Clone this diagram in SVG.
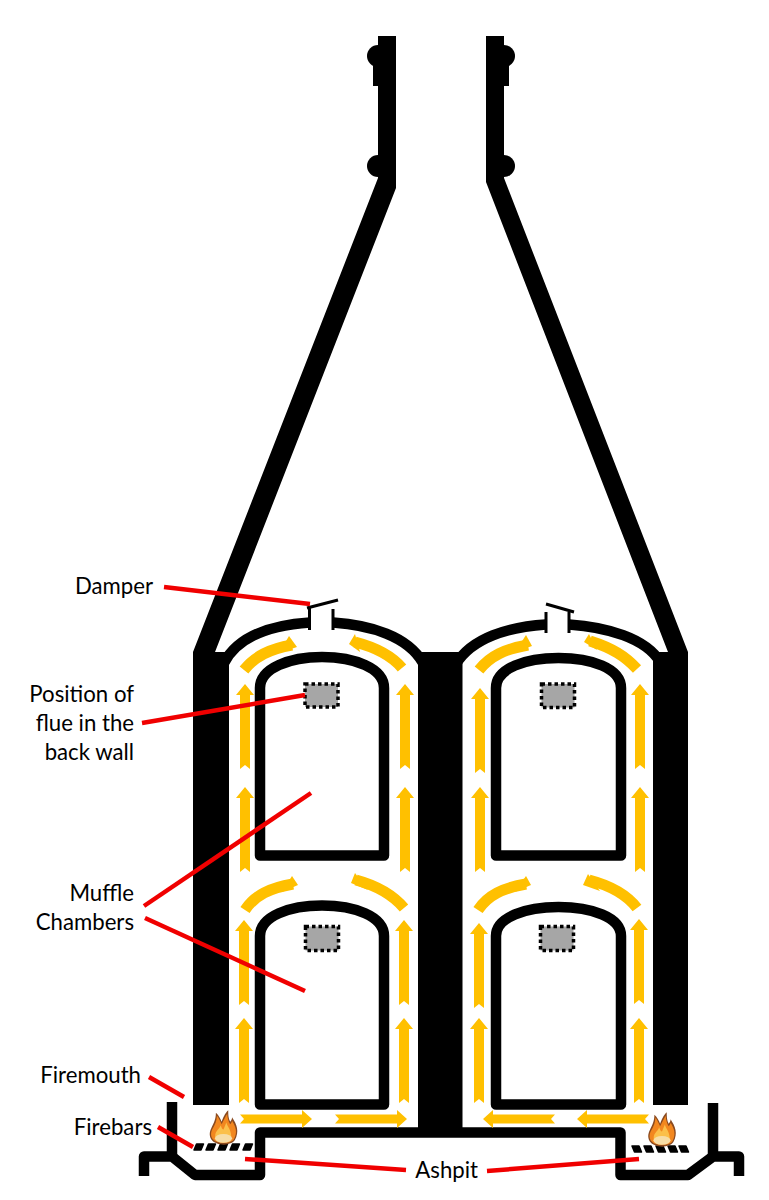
<svg xmlns="http://www.w3.org/2000/svg" xmlns:xlink="http://www.w3.org/1999/xlink" width="769" height="1200" viewBox="0 0 769 1200">
<style>
.wall{fill:#000}
.line{fill:none;stroke:#000;stroke-width:10.5;stroke-linejoin:round}
.thin{fill:none;stroke:#000;stroke-width:3}
.gold{fill:#FFC000}
.arc{fill:none;stroke:#FFC000;stroke-width:11}
.flue{fill:#A6A6A6;stroke:#000;stroke-width:3.500;stroke-dasharray:3.500 3}
.lead{stroke:#F00000;stroke-width:4.500;fill:none}
text{font-family:"Lato","Liberation Sans",sans-serif;font-size:22.200px;fill:#000;text-anchor:end}
</style>
<defs>
<path id="up" d="M0,0L9,11H5V85L0,81L-5,85V11H-9Z"/>
<path id="rt" d="M0,0L-10,9V4.500H-72L-68,0L-72,-4.500H-10V-9Z"/>
<path id="lf" d="M0,0L10,9V4.500H72L68,0L72,-4.500H10V-9Z"/>
<path id="bar" d="M2.500,0H9.500L7,6H0Z" stroke="#000" stroke-width="1.500" stroke-linejoin="round"/>
<path id="barr" d="M0,0H7L9.500,6H2.500Z" stroke="#000" stroke-width="1.500" stroke-linejoin="round"/>
<g id="flame">
<path d="M-13,23C-18,12-8,8-8,-7C-5,-4-3,0-2,3C0,-2 1,-6 5,-10C5,-5 5,-1 7,3C9,1 9,-1 9,-2C14,6 17,14 12,24C8,31-8,31-13,23Z" fill="#8A4A20"/>
<path d="M-12,22C-16,12-7,9-7,-4C-5,-1-3,3-2,6C0,2 2,-3 4,-6C4,-2 5,2 7,6C8,5 9,3 9,2C13,9 15,15 11,23C7,29-8,29-12,22Z" fill="#F2871F"/>
<path d="M-8,23C-11,14-4,12-3,7C-2,10-1,12 0,12C1,9 2,7 3,4C4,9 9,13 8,22C5,28-6,28-8,23Z" fill="#FBC04A"/>
<ellipse cx="0" cy="22" rx="9" ry="5" fill="#F7DDA6"/>
</g>
</defs>

<g id="chimney-left">
<circle class="wall" cx="378" cy="56" r="11"/><circle class="wall" cx="378" cy="166" r="11"/>
<rect class="wall" x="373" y="56" width="8" height="30"/>
<path class="wall" d="M378,36H396V188L215,652H229V1105H193V652L378,178Z"/>
</g>
<g id="chimney-right">
<circle class="wall" cx="504" cy="56" r="11"/><circle class="wall" cx="504" cy="166" r="11"/>
<rect class="wall" x="501" y="56" width="8" height="30"/>
<path class="wall" d="M504,36H486V182L668,652H653V1105H688V652L504,178Z"/>
</g>
<g id="centre-wall"><rect class="wall" x="418" y="652" width="44.500" height="480"/></g>

<g id="roof-left">
<path class="line" d="M224,663C238,636 272,625 310,622.500"/>
<path class="line" d="M333,622.500C370,625 408,636 423,663"/>
<path class="thin" d="M309.500,607V630M333,609V630"/>
<path class="thin" d="M307,608L338,600"/>
</g>
<g id="roof-right">
<path class="line" d="M456,664C472,638 508,627 546,624.500"/>
<path class="line" d="M569,624.500C606,627 646,638 660,662"/>
<path class="thin" d="M546,612V633M569,612V633"/>
<path class="thin" d="M546,604L574,612"/>
</g>

<g id="muffle-upper-left"><path class="line" d="M260,855.500V688C260,668 290,657 322,657S384,668 384,688V855.500Z"/><rect class="flue" x="305" y="684" width="33" height="23"/></g>
<g id="muffle-lower-left"><path class="line" d="M260,1104.500V936C260,916 290,905.500 322,905.500S384,916 384,936V1104.500Z"/><rect class="flue" x="305.500" y="926.500" width="33" height="24"/></g>
<g id="muffle-upper-right"><path class="line" d="M496,855.500V688C496,668 526,658 558.500,658S621,668 621,688V855.500Z"/><rect class="flue" x="541.500" y="684" width="33" height="23.500"/></g>
<g id="muffle-lower-right"><path class="line" d="M496,1104.500V936C496,917 526,907 558.500,907S621,917 621,936V1104.500Z"/><rect class="flue" x="540.500" y="926.500" width="33" height="24"/></g>

<g id="ashpit">
<path class="line" d="M172,1102V1157"/>
<path class="line" d="M144,1176V1156.500H172L195,1175H260V1132.500H620.500V1175H688L713,1156.500H739V1176"/>
<path class="line" d="M713,1103V1157"/>
</g>
<g id="firebars-left" class="wall">
<use href="#bar" x="194" y="1144"/><use href="#bar" x="206" y="1144"/><use href="#bar" x="218" y="1144"/><use href="#bar" x="230" y="1144"/><use href="#bar" x="243" y="1144"/>
</g>
<g id="firebars-right" class="wall">
<use href="#barr" x="632" y="1146"/><use href="#barr" x="644" y="1146"/><use href="#barr" x="656" y="1146"/><use href="#barr" x="668" y="1146"/><use href="#barr" x="679" y="1146"/>
</g>
<g id="flame-left"><use href="#flame" transform="translate(223.500 1119) scale(.95 .88)"/></g>
<g id="flame-right"><use href="#flame" transform="translate(662 1121) scale(.95 .88)"/></g>

<g id="flow-arrows" class="gold">
<use href="#up" x="245" y="684"/><use href="#up" x="245" y="787"/><use href="#up" x="405" y="684"/><use href="#up" x="405" y="787"/>
<use href="#up" x="244" y="920"/><use href="#up" x="244" y="1018"/><use href="#up" x="404" y="920"/><use href="#up" x="404" y="1018"/>
<use href="#up" x="480" y="688"/><use href="#up" x="480" y="787"/><use href="#up" x="640" y="684"/><use href="#up" x="640" y="787"/>
<use href="#up" x="479" y="923"/><use href="#up" x="479" y="1018"/><use href="#up" x="639" y="919"/><use href="#up" x="639" y="1018"/>
<use href="#rt" x="312" y="1119"/><use href="#rt" x="407" y="1119"/>
<use href="#lf" x="483" y="1119"/><use href="#lf" x="577" y="1119"/>
<path class="arc" d="M244,670C255,656 270,649 292,645"/><path d="M289,636L297,647L279,653Z"/>
<path class="arc" d="M402,668C392,656 378,648 355,642"/><path d="M355,634L349,644L360,652Z"/>
<path class="arc" d="M479,670C490,656 505,649 528,645"/><path d="M526,635L532,646L515,652Z"/>
<path class="arc" d="M637,669C625,656 612,648 590,641"/><path d="M589,634L584,642L597,650Z"/>
<path class="arc" d="M245,910C255,895 270,888 293,884"/><path d="M292,876L298,885L282,892Z"/>
<path class="arc" d="M404,908C393,895 378,886 356,880"/><path d="M355,873L351,883L368,890Z"/>
<path class="arc" d="M478,910C488,895 503,888 526,884"/><path d="M526,876L531,885L515,892Z"/>
<path class="arc" d="M637,908C627,895 612,886 589,880"/><path d="M588,874L583,885L600,891Z"/>
</g>

<g id="connectors">
<path class="lead" d="M164,587L310,604"/>
<path class="lead" d="M142,723L305,695"/>
<path class="lead" d="M144,906L311,793"/>
<path class="lead" d="M145,918L305,991"/>
<path class="lead" d="M149,1077L184,1097"/>
<path class="lead" d="M158,1127L193,1147"/>
<path class="lead" d="M245,1159L406,1170"/>
<path class="lead" d="M487,1171L639,1159"/>
</g>

<g id="labels">
<text x="153" y="594">Damper</text>
<text x="134" y="702">Position of</text>
<text x="134" y="731">flue in the</text>
<text x="134" y="760">back wall</text>
<text x="134" y="901">Muffle</text>
<text x="134" y="930">Chambers</text>
<text x="141" y="1083">Firemouth</text>
<text x="152" y="1135">Firebars</text>
<text x="478" y="1178">Ashpit</text>
</g>
</svg>
